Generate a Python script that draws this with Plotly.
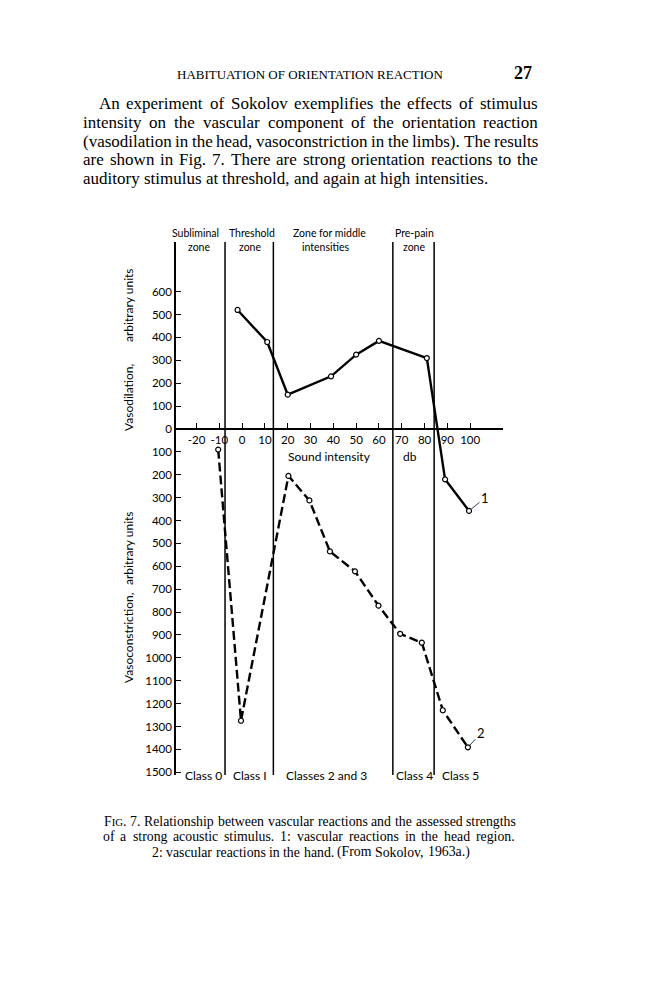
import plotly.graph_objects as go

# page text
header = "HABITUATION OF ORIENTATION REACTION"
page_no = "27"
paragraph = [
    "An experiment of Sokolov exemplifies the effects of stimulus",
    "intensity on the vascular component of the orientation reaction",
    "(vasodilation in the head, vasoconstriction in the limbs). The results",
    "are shown in Fig. 7. There are strong orientation reactions to the",
    "auditory stimulus at threshold, and again at high intensities.",
]
caption = [
    "FIG. 7.  Relationship between vascular reactions and the assessed strengths",
    "of a strong acoustic stimulus. 1: vascular reactions in the head region.",
    "2: vascular reactions in the hand. (From Sokolov, 1963a.)",
]

# curve 1: vasodilation in the head (solid)
head_db = [-2, 11, 20, 39, 50, 60, 81, 89, 99.5]
head_val = [520, 380, 150, 230, 325, 385, 310, -220, -358]

# curve 2: vasoconstriction in the hand (dashed), plotted negative
hand_db = [-10.5, -0.5, 20.3, 29.5, 38.5, 49.5, 59.8, 69.3, 78.8, 88, 99]
hand_val = [-90, -1275, -205, -312, -535, -622, -772, -895, -934, -1229, -1391]

# zone boundaries (db)
zone_edges = [-7.5, 13.7, 66.1, 84.2]
zone_top = ["Subliminal", "Threshold", "Zone for middle", "Pre-pain"]
zone_top_x = [-20.4, 4.2, 38.5, 75.8]
zone_bottom = ["zone", "zone", "intensities", "zone"]
zone_bottom_x = [-18.8, 3.5, 36.8, 75.4]
class_names = ["Class 0", "Class I", "Classes 2 and 3", "Class 4", "Class 5"]
class_x = [-16.8, 3.5, 36.8, 75.6, 95.6]

x_ticks = [-20, -10, 0, 10, 20, 30, 40, 50, 60, 70, 80, 90, 100]
y_ticks = [600, 500, 400, 300, 200, 100, 0, -100, -200, -300, -400, -500, -600,
           -700, -800, -900, -1000, -1100, -1200, -1300, -1400, -1500]

W, H = 657, 1000
OFF = 8  # page margin of the html body
L, R, T, B = 176 - OFF, 154 + OFF, 242 - OFF, 225 + OFF
X_RANGE = [-29.0, 114.4]
Y_RANGE = [-1512, 817]

SANS = "Lato"
SERIF = "Liberation Serif"

# Times / Liberation Serif advance widths (per 1000 em)
TW = dict(zip("abcdefghijklmnopqrstuvwxyz",
              [444, 500, 444, 500, 444, 333, 500, 500, 278, 278, 500, 278, 778,
               500, 500, 500, 500, 333, 389, 278, 500, 500, 722, 500, 500, 444]))
TW.update(dict(zip("ABCDEFGHIJKLMNOPQRSTUVWXYZ",
                   [722, 667, 667, 722, 611, 556, 722, 722, 333, 389, 722, 611, 889,
                    722, 722, 556, 722, 667, 556, 611, 722, 722, 944, 722, 722, 611])))
TW.update({c: 500 for c in "0123456789"})
TW.update({".": 250, ",": 250, ":": 278, ";": 278, "(": 333, ")": 333, "-": 333, " ": 250})


def px(x):
    return (x - OFF - L) / (W - L - R)


def py(y):
    return (H - B - (y - OFF)) / (H - T - B)


def width(word, size):
    return sum(TW.get(c, 500) for c in word) * size / 1000


def text_line(words_line, y, size, left, right=None, small_caps=False):
    """place one line of serif text word by word (justified when right is given)"""
    words = words_line.split()
    sc = size * 0.78
    shown, widths = [], []
    for w in words:
        if small_caps and w == "FIG.":
            shown.append("F<span style='font-size:%.1fpx'>IG</span>." % sc)
            widths.append(width("F.", size) + width("IG", sc))
        else:
            shown.append(w)
            widths.append(width(w, size))
    if right is None:
        gap = width(" ", size)
    else:
        gap = (right - left - sum(widths)) / (len(words) - 1)
    out, x = [], left
    for s, w in zip(shown, widths):
        out.append(dict(x=px(x), y=py(y), xref="paper", yref="paper", text=s,
                        showarrow=False, xanchor="left", yanchor="middle", borderpad=0,
                        font=dict(family=SERIF, size=size, color="black")))
        x += w + gap
    return out


fig = go.Figure()

fig.add_trace(go.Scatter(
    x=head_db, y=head_val, mode="lines+markers",
    line=dict(color="black", width=2.4),
    marker=dict(size=5, color="white", line=dict(color="black", width=1.2)),
    showlegend=False,
))
fig.add_trace(go.Scatter(
    x=hand_db, y=hand_val, mode="lines+markers",
    line=dict(color="black", width=2.4, dash="9px,4px"),
    marker=dict(size=5, color="white", line=dict(color="black", width=1.2)),
    showlegend=False,
))

for e in zone_edges:
    fig.add_shape(type="line", x0=e, x1=e, y0=0, y1=1, xref="x", yref="paper",
                  line=dict(color="black", width=1.5))

lab = dict(family=SANS, size=12, color="black")
zlab = dict(family=SANS, size=10.5, color="black")
annotations = []
for names, xs, yy in [(zone_top, zone_top_x, 233), (zone_bottom, zone_bottom_x, 246.5)]:
    for name, c in zip(names, xs):
        annotations.append(dict(x=c, y=py(yy), xref="x", yref="paper", text=name,
                                showarrow=False, xanchor="center", yanchor="middle",
                                borderpad=0, font=zlab))
for name, c in zip(class_names, class_x):
    annotations.append(dict(x=c, y=py(775), xref="x", yref="paper", text=name,
                            showarrow=False, xanchor="center", yanchor="middle", font=lab))

annotations += [
    dict(x=38.5, y=-122, xref="x", yref="y", text="Sound intensity", showarrow=False,
         xanchor="center", yanchor="middle", font=lab),
    dict(x=73.6, y=-122, xref="x", yref="y", text="db", showarrow=False,
         xanchor="center", yanchor="middle", font=lab),
    dict(x=head_db[-1], y=head_val[-1], xref="x", yref="y", text="1", showarrow=True,
         arrowhead=0, arrowwidth=1, ax=16, ay=-13, standoff=3,
         font=dict(family=SANS, size=13, color="black")),
    dict(x=hand_db[-1], y=hand_val[-1], xref="x", yref="y", text="2", showarrow=True,
         arrowhead=0, arrowwidth=1, ax=13, ay=-14, standoff=3,
         font=dict(family=SANS, size=13, color="black")),
]

# rotated axis titles
for txt, yy in [("Vasodilation,", 398), ("arbitrary units", 305),
                ("Vasoconstriction,", 638), ("arbitrary units", 548)]:
    annotations.append(dict(x=px(128), y=py(yy), xref="paper", yref="paper", text=txt,
                            textangle=-90, showarrow=False, xanchor="center",
                            yanchor="middle", font=lab))

# page header and text
annotations.append(dict(x=px(310), y=py(74), xref="paper", yref="paper", text=header,
                        showarrow=False, xanchor="center", yanchor="middle",
                        font=dict(family=SERIF, size=13, color="black")))
annotations.append(dict(x=px(523), y=py(73), xref="paper", yref="paper", text="<b>" + page_no + "</b>",
                        showarrow=False, xanchor="center", yanchor="middle",
                        font=dict(family=SERIF, size=18, color="black")))
for i, line in enumerate(paragraph):
    left = 98 if i == 0 else 82
    right = 537 if i < len(paragraph) - 1 else None
    annotations += text_line(line, 103.5 + i * 18.8, 17, left, right)

annotations += text_line(caption[0], 821, 13.8, 103, 515, small_caps=True)
annotations += text_line(caption[1], 836.5, 13.8, 102, 514)
cap3 = width(caption[2], 13.8)
annotations += text_line(caption[2], 852, 13.8, 310 - cap3 / 2)

fig.update_layout(
    width=W, height=H,
    margin=dict(l=L, r=R, t=T, b=B),
    paper_bgcolor="white", plot_bgcolor="white",
    annotations=annotations,
    xaxis=dict(
        range=X_RANGE, anchor="free", position=(0 - Y_RANGE[0]) / (Y_RANGE[1] - Y_RANGE[0]),
        showline=True, linecolor="black", linewidth=1.5,
        tickvals=x_ticks, ticktext=[str(v) for v in x_ticks],
        ticks="inside", ticklen=5, tickcolor="black", tickwidth=1,
        showgrid=False, zeroline=False,
        tickfont=dict(family=SANS, size=11.5, color="black"),
    ),
    yaxis=dict(
        range=Y_RANGE, showline=True, linecolor="black", linewidth=1.5,
        tickvals=y_ticks, ticktext=[str(abs(v)) for v in y_ticks],
        ticks="inside", ticklen=5, tickcolor="black", tickwidth=1,
        showgrid=False, zeroline=False,
        tickfont=dict(family=SANS, size=11.5, color="black"),
    ),
)

fig.write_html("out.html")
